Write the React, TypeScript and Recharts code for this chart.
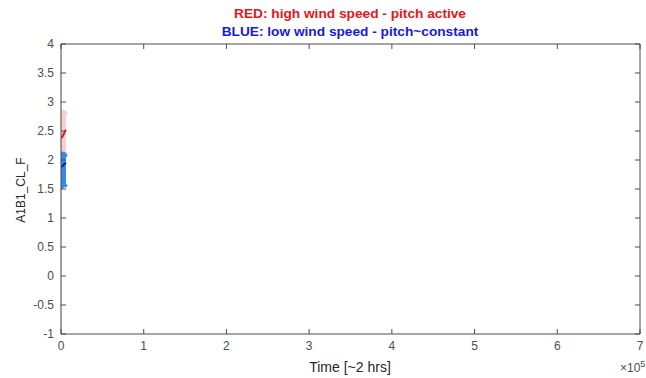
import React from 'react';
import { ComposedChart, Area, Line, XAxis, YAxis, CartesianGrid } from 'recharts';

// Time samples (s) for the short recorded segment
const time = [0, 1000, 2000, 3000, 4000, 5000, 6000];
// RED: high wind speed band (min / max) and mean trace
const redLow = [2.12, 2.12, 2.11, 2.12, 2.11, 2.12, 2.12];
const redHigh = [2.84, 2.85, 2.84, 2.83, 2.84, 2.82, 2.8];
const redMid = [2.38, 2.39, 2.41, 2.44, 2.47, 2.5, 2.52];
// BLUE: low wind speed band (min / max) and mean trace
const blueLow = [1.52, 1.53, 1.54, 1.55, 1.56, 1.55, 1.56];
const blueHigh = [2.12, 2.11, 2.12, 2.1, 2.11, 2.09, 2.08];
const blueMid = [1.88, 1.89, 1.9, 1.91, 1.93, 1.94, 1.95];

const xTicks = [0, 100000, 200000, 300000, 400000, 500000, 600000, 700000];
const yTicks = [-1, -0.5, 0, 0.5, 1, 1.5, 2, 2.5, 3, 3.5, 4];

const data = time.map((t, i) => ({
  t,
  redBand: [redLow[i], redHigh[i]],
  blueBand: [blueLow[i], blueHigh[i]],
  redMid: redMid[i],
  blueMid: blueMid[i],
}));

const FONT = '"Liberation Sans", Arial, Helvetica, sans-serif';
const AX = '#4d4d4d';

export default function App() {
  return (
    <div style={{ position: 'absolute', left: 0, top: 0, width: 646, height: 378, overflow: 'hidden', background: '#fff', fontFamily: FONT }}>
      <ComposedChart width={646} height={378} data={data} margin={{ top: 0, right: 0, bottom: 0, left: 0 }}>
        <CartesianGrid stroke="#e6e6e6" strokeWidth={1} verticalValues={xTicks} horizontalValues={yTicks} />
        <XAxis
          xAxisId="b"
          dataKey="t"
          type="number"
          domain={[0, 700000]}
          ticks={xTicks}
          tickFormatter={(v: number) => String(v / 100000)}
          height={44}
          tickSize={-5}
          tickMargin={12}
          stroke={AX}
          tick={{ fill: AX, fontSize: 12, fontFamily: FONT }}
          allowDataOverflow
        />
        <XAxis
          xAxisId="t"
          orientation="top"
          dataKey="t"
          type="number"
          domain={[0, 700000]}
          ticks={xTicks}
          tickFormatter={() => ''}
          height={44}
          tickSize={-5}
          stroke={AX}
          allowDataOverflow
        />
        <YAxis
          yAxisId="l"
          type="number"
          domain={[-1, 4]}
          ticks={yTicks}
          width={61}
          tickSize={-5}
          tickMargin={12}
          stroke={AX}
          tick={{ fill: AX, fontSize: 12, fontFamily: FONT }}
          allowDataOverflow
        />
        <YAxis
          yAxisId="r"
          orientation="right"
          type="number"
          domain={[-1, 4]}
          ticks={yTicks}
          tickFormatter={() => ''}
          width={6}
          tickSize={-5}
          stroke={AX}
          allowDataOverflow
        />
        <Area xAxisId="b" yAxisId="l" dataKey="redBand" type="monotone" fill="#fbcfcf" fillOpacity={1} stroke="#fbcfcf" strokeWidth={3} strokeLinecap="round" strokeLinejoin="round" isAnimationActive={false} />
        <Area xAxisId="b" yAxisId="l" dataKey="blueBand" type="monotone" fill="#3388ee" fillOpacity={1} stroke="#3388ee" strokeWidth={3} strokeLinecap="round" strokeLinejoin="round" isAnimationActive={false} />
        <Line xAxisId="b" yAxisId="l" dataKey="redMid" type="monotone" stroke="#e8101a" strokeWidth={2} dot={false} isAnimationActive={false} />
        <Line xAxisId="b" yAxisId="l" dataKey="blueMid" type="monotone" stroke="#1414c8" strokeWidth={2} dot={false} isAnimationActive={false} />
      </ComposedChart>
      <div style={{ position: 'absolute', left: 150, width: 400, top: 5, textAlign: 'center', fontSize: 13.7, fontWeight: 'bold', color: '#e8141c', lineHeight: '18px' }}>
        RED: high wind speed - pitch active
      </div>
      <div style={{ position: 'absolute', left: 150, width: 400, top: 23, textAlign: 'center', fontSize: 13.7, fontWeight: 'bold', color: '#1a1ad8', lineHeight: '18px' }}>
        BLUE: low wind speed - pitch~constant
      </div>
      <div style={{ position: 'absolute', left: 250, width: 200, top: 359, textAlign: 'center', fontSize: 14, color: '#262626', lineHeight: '16px' }}>
        Time [~2 hrs]
      </div>
      <div style={{ position: 'absolute', left: 21, top: 190, width: 0, height: 0 }}>
        <div style={{ position: 'absolute', left: -60, top: -8, width: 120, textAlign: 'center', fontSize: 12, color: '#262626', lineHeight: '16px', transform: 'rotate(-90deg)' }}>
          A1B1_CL_F
        </div>
      </div>
      <div style={{ position: 'absolute', left: 620, top: 361, fontSize: 12, color: AX, lineHeight: '14px', whiteSpace: 'nowrap' }}>
        ×10<sup style={{ fontSize: 9, verticalAlign: 'top', position: 'relative', top: -4 }}>5</sup>
      </div>
    </div>
  );
}
